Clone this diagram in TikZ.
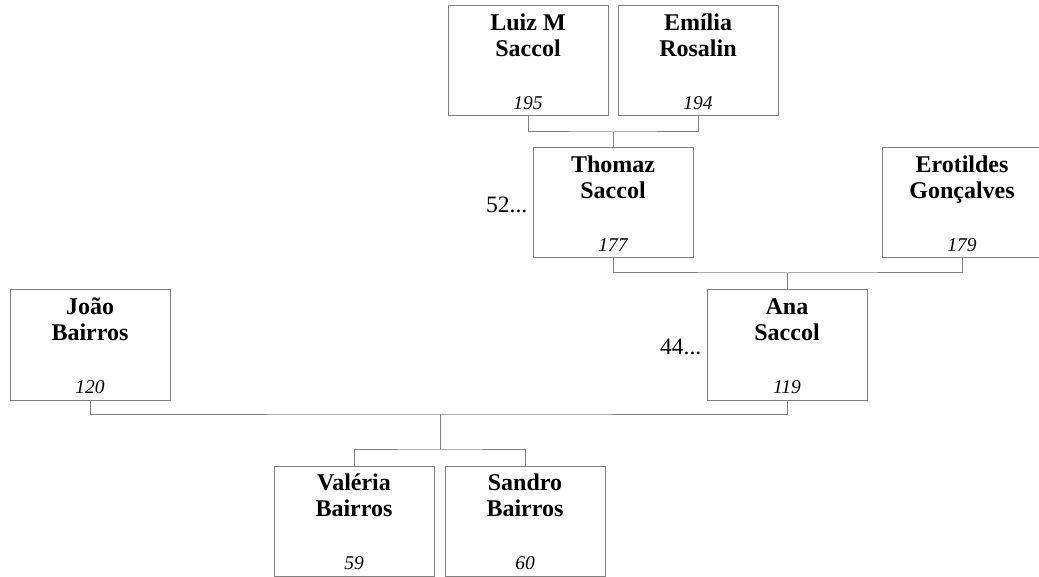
\documentclass[tikz,border=0pt]{standalone}
\usepackage{fontspec}
\setmainfont{Liberation Serif}
\usetikzlibrary{calc}
\definecolor{linegray}{RGB}{128,128,128}
\tikzset{
  pbox/.style={draw=linegray, line width=1pt, rectangle, minimum width=160pt, minimum height=110pt, inner sep=0pt, fill=white},
  pname/.style={anchor=base, align=center, inner sep=0pt, font=\fontsize{24}{26}\selectfont\bfseries},
  pnum/.style={anchor=base, inner sep=0pt, font=\fontsize{19.5}{22}\selectfont\itshape},
  pref/.style={anchor=base east, inner sep=0pt, font=\fontsize{23.5}{26}\selectfont},
  conn/.style={draw=linegray, line width=1pt}
}
\newcommand{\person}[5]{%
  \node[pbox] (#1) at (#2) {};
  \node[pname] (#1-n) at ($(#1.north)+(0,51)$) {#3\\#4};
  \node[pnum] (#1-id) at ($(#1.south)+(0,-7)$) {#5};
}
\begin{document}
\begin{tikzpicture}[x=1pt,y=-1pt]
\useasboundingbox (0,0) rectangle (1039,577);
\person{luiz}{528,61}{Luiz M}{Saccol}{195}
\person{emilia}{698,61}{Emília}{Rosalin}{194}
\person{thomaz}{613,203}{Thomaz}{Saccol}{177}
\person{erot}{962,203}{Erotildes}{Gonçalves}{179}
\person{joao}{90,345}{João}{Bairros}{120}
\person{ana}{787,345}{Ana}{Saccol}{119}
\person{valeria}{354,521}{Valéria}{Bairros}{59}
\person{sandro}{525,521}{Sandro}{Bairros}{60}
\node[pref] (thomaz-ref) at ($(thomaz.north west)+(-5,65)$) {52...};
\node[pref] (ana-ref) at ($(ana.north west)+(-5,65)$) {44...};
\coordinate (m1) at (613,132);
\coordinate (m2) at (787,273);
\coordinate (m3) at (440,414);
\coordinate (c3) at (440,449);
\draw[conn] (luiz.south) |- (m1) -| (emilia.south);
\draw[conn] (m1) -- (thomaz.north);
\draw[conn] (thomaz.south) |- (m2) -| (erot.south);
\draw[conn] (m2) -- (ana.north);
\draw[conn] (joao.south) |- (m3) -| (ana.south);
\draw[conn] (m3) -- (c3);
\draw[conn] (valeria.north) |- (c3) -| (sandro.north);
\end{tikzpicture}
\end{document}
